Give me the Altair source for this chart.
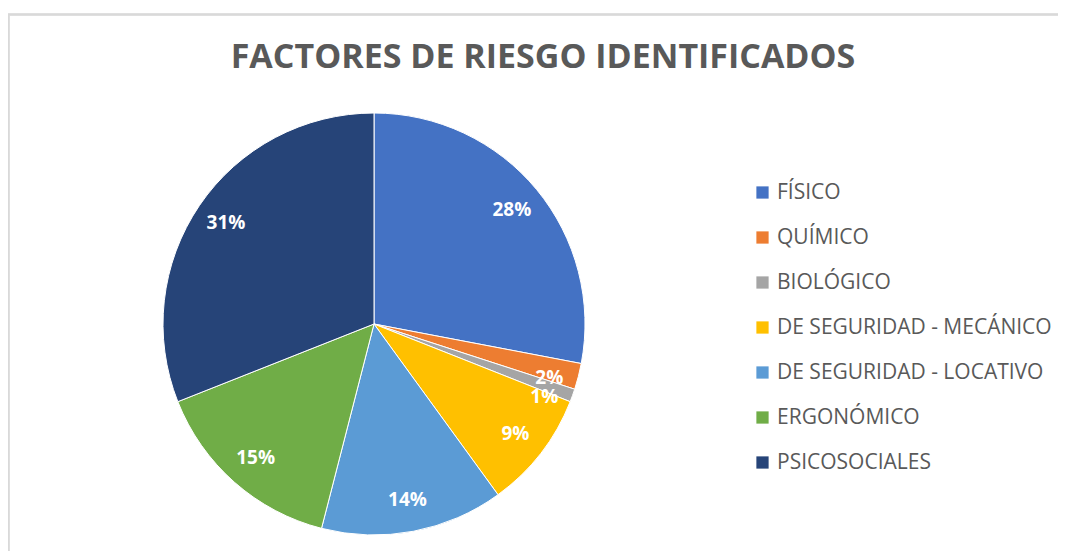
import altair as alt
import pandas as pd

categories = ["FÍSICO", "QUÍMICO", "BIOLÓGICO", "DE SEGURIDAD - MECÁNICO",
              "DE SEGURIDAD - LOCATIVO", "ERGONÓMICO", "PSICOSOCIALES"]
values = [28, 2, 1, 9, 14, 15, 31]
colors = ["#4472C4", "#ED7D31", "#A5A5A5", "#FFC000", "#5B9BD5", "#70AD47", "#264478"]
labels = [f"{v}%" for v in values]

df = pd.DataFrame({"cat": categories, "val": values, "lab": labels,
                   "ord": list(range(len(values)))})

R = 211
base = alt.Chart(df).encode(
    theta=alt.Theta("val:Q", stack=True),
    order=alt.Order("ord:Q"),
)

pie = base.mark_arc(outerRadius=R, stroke="#ffffff", strokeWidth=1).encode(
    color=alt.Color("cat:N", sort=categories,
                    scale=alt.Scale(domain=categories, range=colors),
                    legend=alt.Legend(title=None, orient="none", legendX=589, legendY=69,
                                      symbolType="square", symbolSize=150,
                                      labelFontSize=21, labelColor="#595959",
                                      labelFont="Open Sans", rowPadding=23,
                                      symbolStrokeWidth=0, labelOffset=4,
                                      padding=0, labelLimit=400))
)

text_big = base.mark_text(radius=179, font="Open Sans", fontSize=19, fontWeight="bold",
                          color="white").encode(
    text=alt.condition("datum.val > 2", "lab:N", alt.value("")))
text_two = base.mark_text(radius=181, dy=9, font="Open Sans", fontSize=19,
                          fontWeight="bold", color="white").encode(
    text=alt.condition("datum.val == 2", "lab:N", alt.value("")))
text_one = base.mark_text(radius=181, dy=12, font="Open Sans", fontSize=19,
                          fontWeight="bold", color="white").encode(
    text=alt.condition("datum.val == 1", "lab:N", alt.value("")))

frame_top = alt.Chart(df).mark_rule(color="#d9d9d9", strokeWidth=1.5).encode(
    x=alt.value(-155), x2=alt.value(903), y=alt.value(-98.5))
frame_left = alt.Chart(df).mark_rule(color="#d9d9d9", strokeWidth=1.5).encode(
    x=alt.value(-154.5), y=alt.value(-98.5), y2=alt.value(460))

chart = alt.layer(frame_top, frame_left, pie, text_big, text_two, text_one).properties(
    width=422, height=422,
    padding={"left": 155, "top": 105, "right": 473, "bottom": 16},
    autosize=alt.AutoSizeParams(type="none"),
    title=alt.Title("FACTORES DE RIESGO IDENTIFICADOS", font="Open Sans",
                    fontSize=34, fontWeight="bold", color="#595959",
                    anchor="middle", frame="group", dx=169, offset=0, dy=88,
                    baseline="alphabetic"),
).configure_view(stroke=None)

chart.save("out.html", embed_options={"renderer": "svg", "actions": False})
